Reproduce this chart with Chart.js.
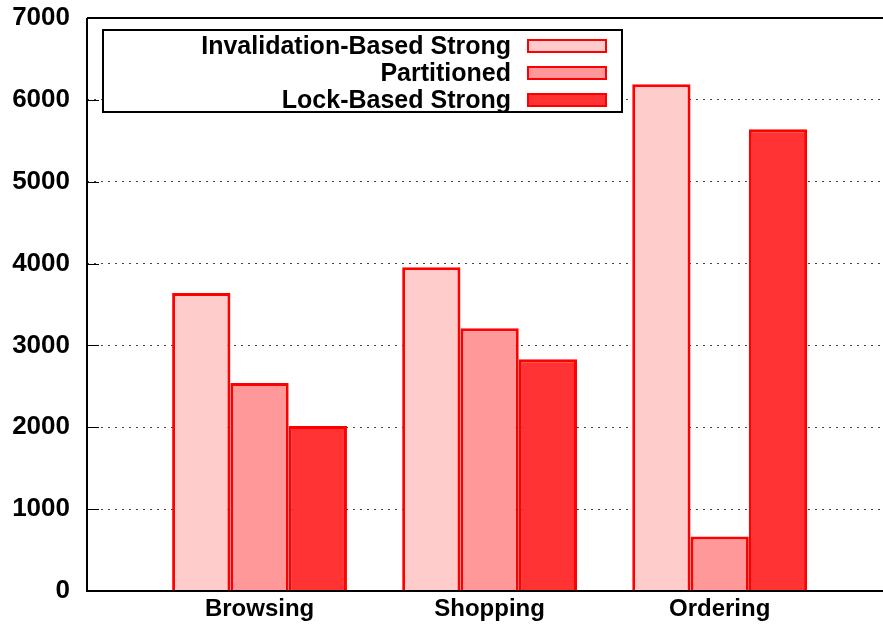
<!DOCTYPE html>
<html>
<head>
<meta charset="utf-8">
<script src="https://cdn.jsdelivr.net/npm/chart.js@4.4.0/dist/chart.umd.min.js"></script>
<style>
  html, body { margin: 0; padding: 0; background: #fff; }
  #wrap { width: 883px; height: 625px; }
</style>
</head>
<body>
<div id="wrap"><canvas id="c" width="883" height="625"></canvas></div>
<script>
'use strict';

const categories = ['Browsing', 'Shopping', 'Ordering'];
const seriesNames = ['Invalidation-Based Strong', 'Partitioned', 'Lock-Based Strong'];
const invalidation = [3640, 3955, 6190];
const partitioned = [2540, 3210, 665];
const lockBased = [2015, 2830, 5640];
const yTicks = [0, 1000, 2000, 3000, 4000, 5000, 6000, 7000];
const fills = ['#ffcccc', '#ff9999', '#ff3333'];

const FONT = '"Liberation Sans", Arial, sans-serif';

function toPoints(arr) {
  return arr.map((v, i) => ({ x: i, y: v }));
}

const seriesValues = [invalidation, partitioned, lockBased];

// gnuplot-ish frame, inward ticks and the boxed legend
const framePlugin = {
  id: 'frame',
  afterDraw(chart) {
    const ctx = chart.ctx;
    const a = chart.chartArea;
    const y = chart.scales.y;
    ctx.save();
    ctx.strokeStyle = '#000';
    ctx.lineWidth = 2;
    ctx.beginPath();
    ctx.moveTo(a.left, a.top);
    ctx.lineTo(a.right, a.top);
    ctx.moveTo(a.left, a.top);
    ctx.lineTo(a.left, a.bottom);
    ctx.lineTo(a.right, a.bottom);
    ctx.stroke();
    ctx.lineWidth = 1;
    ctx.beginPath();
    yTicks.forEach(t => {
      const py = Math.round(y.getPixelForValue(t)) + 0.5;
      ctx.moveTo(a.left, py);
      ctx.lineTo(a.left + 12, py);
    });
    ctx.stroke();

    // legend
    const lx = 103, ly = 30, lw = 519, lh = 82;
    ctx.fillStyle = '#fff';
    ctx.fillRect(lx, ly, lw, lh);
    ctx.strokeStyle = '#000';
    ctx.lineWidth = 2;
    ctx.strokeRect(lx, ly, lw, lh);
    ctx.font = 'bold 25px ' + FONT;
    ctx.textAlign = 'right';
    ctx.textBaseline = 'middle';
    chart.data.datasets.forEach((ds, i) => {
      const ry = 46 + i * 27;
      ctx.fillStyle = '#000';
      ctx.fillText(ds.label, 511, ry + 1);
      ctx.fillStyle = ds.backgroundColor;
      ctx.fillRect(528, ry - 6, 78, 12);
      ctx.strokeStyle = '#ff0000';
      ctx.lineWidth = 2;
      ctx.strokeRect(528, ry - 6, 78, 12);
    });
    ctx.restore();
  }
};

new Chart(document.getElementById('c'), {
  type: 'bar',
  data: {
    datasets: seriesNames.map((name, i) => ({
      label: name,
      data: toPoints(seriesValues[i]),
      backgroundColor: fills[i],
      borderColor: '#ff0000',
      borderWidth: 3,
      categoryPercentage: 0.76,
      barPercentage: 1.0
    }))
  },
  options: {
    responsive: false,
    animation: false,
    layout: { padding: { top: 18, right: 0, left: 0, bottom: 0 } },
    plugins: {
      legend: { display: false },
      tooltip: { enabled: false }
    },
    scales: {
      x: {
        type: 'linear',
        offset: false,
        min: -0.75,
        max: 2.71,
        grid: { display: false, drawTicks: false, offset: false },
        border: { display: false },
        afterBuildTicks(scale) {
          scale.ticks = categories.map((c, i) => ({ value: i }));
        },
        afterFit(scale) { scale.height = 34; },
        ticks: {
          autoSkip: false,
          padding: 4,
          color: '#000',
          font: { family: FONT, size: 24, weight: 'bold' },
          callback: v => categories[v]
        }
      },
      y: {
        min: 0,
        max: 7000,
        afterBuildTicks(scale) {
          scale.ticks = yTicks.map(v => ({ value: v }));
        },
        afterFit(scale) {
          scale.width = 87;
          scale.paddingTop = 0;
          scale.paddingBottom = 0;
        },
        grid: {
          drawTicks: false,
          color: ctx => (ctx.tick && (ctx.tick.value === 0 || ctx.tick.value === 7000)) ? 'rgba(0,0,0,0)' : '#444',
          lineWidth: 1
        },
        border: { display: false, dash: [2, 5] },
        ticks: {
          padding: 17,
          color: '#000',
          font: { family: FONT, size: 26, weight: 'bold' },
          callback: v => String(v)
        }
      }
    }
  },
  plugins: [framePlugin]
});
</script>
</body>
</html>
